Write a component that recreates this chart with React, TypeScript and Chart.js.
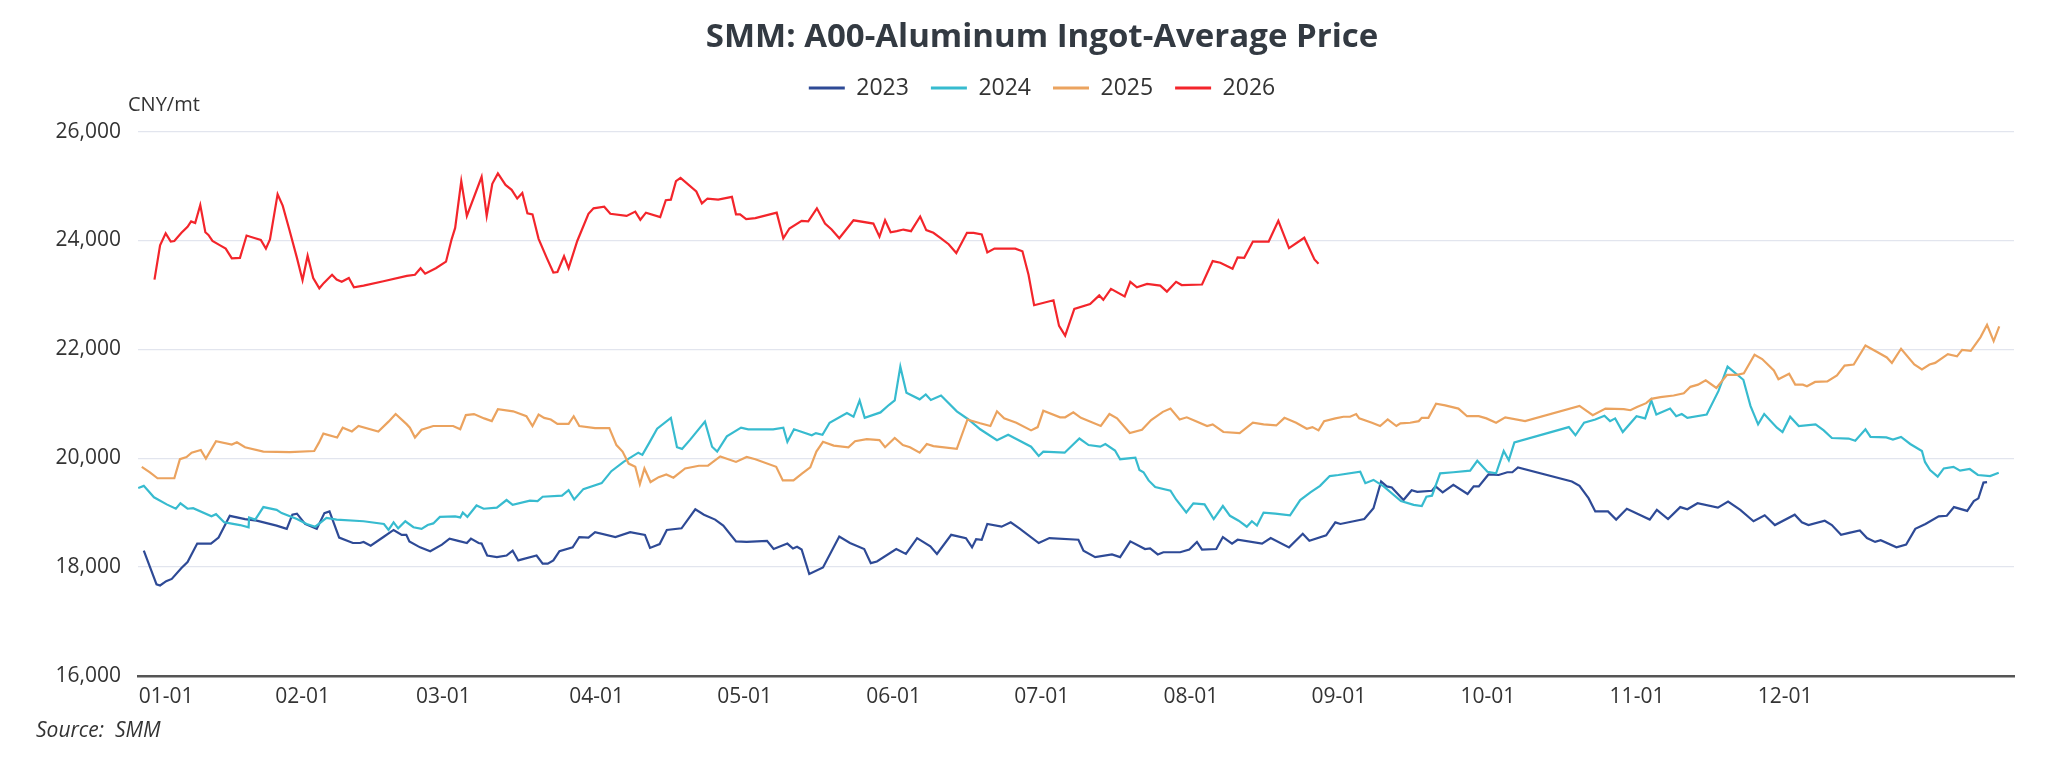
import { useEffect, useRef } from 'react';
import { Chart, registerables } from 'chart.js';

Chart.register(...registerables);

// x is day of year (Jan 1 = 0)
const monthTickDays = [4.4, 31.2, 58.9, 89, 118.1, 147.4, 176.5, 205.8, 234.9, 264.2, 293.5, 322.6];
const monthLabels = ['01-01', '02-01', '03-01', '04-01', '05-01', '06-01', '07-01', '08-01', '09-01', '10-01', '11-01', '12-01'];
const yTicks = [16000, 18000, 20000, 22000, 24000, 26000];

const seriesNames = ['2023', '2024', '2025', '2026'];
const seriesColors = ['#2e4a96', '#37bbcf', '#eba35f', '#f3252b'];

const days2023 = [0, 2.5, 3.2, 4.4, 5.5, 7.4, 8.6, 10.5, 13.2, 14.7, 16.9, 19.9, 22.2, 26.1, 28.1, 29.2, 30.1, 31.7, 34, 35.5, 36.5, 38.4, 41.1, 42.5, 43.2, 44.6, 47.1, 49.1, 50.7, 51.6, 52.2, 54.3, 56.3, 58.6, 60.1, 61.8, 63.5, 64.3, 65.8, 66.4, 67.5, 69.4, 71.3, 72.5, 73.6, 77.2, 78.4, 79.4, 80.5, 81.7, 84.3, 85.6, 87.4, 88.7, 92.7, 95.6, 98.5, 99.5, 101.4, 102.8, 105.7, 108.4, 110.1, 112.3, 113.9, 116.4, 118.5, 122.5, 123.8, 126.5, 127.6, 128.4, 129.3, 130.8, 133.5, 136.7, 138.8, 141.6, 142.9, 144.1, 147.9, 149.8, 152, 154.6, 155.9, 158.7, 161.6, 162.8, 163.6, 164.7, 165.8, 168.6, 170.4, 172.1, 175.9, 178, 183.7, 184.7, 187, 190.3, 191.9, 193.9, 196.8, 197.8, 199.3, 200.4, 203.7, 205.5, 207, 208, 210.8, 212.1, 213.9, 215, 219.8, 221.5, 225.1, 227.8, 229.1, 232.4, 234.2, 235.2, 239.9, 241.7, 243.2, 244.3, 245.3, 247.6, 249.2, 250.3, 253.2, 253.9, 255.3, 257.4, 260.2, 261.4, 262.4, 264.3, 266.3, 268, 269, 270.1, 280.7, 282.2, 284, 285.3, 287.8, 289.4, 291.5, 296, 297.4, 299.6, 302, 303.4, 305.4, 309.4, 311.4, 313.8, 316.4, 318.6, 320.6, 324.5, 325.9, 327.2, 330.4, 331.8, 333.6, 335.4, 337.3, 338.7, 340.3, 341.4, 344.5, 346.4, 348.2, 350.2, 352.8, 354.4, 355.8, 358.4, 359.7, 360.6, 361.6, 362.3];
const price2023 = [18300, 17680, 17660, 17740, 17780, 17980, 18090, 18430, 18430, 18540, 18940, 18880, 18850, 18760, 18700, 18960, 18980, 18790, 18700, 18990, 19020, 18540, 18440, 18440, 18460, 18390, 18550, 18680, 18590, 18590, 18470, 18360, 18290, 18410, 18520, 18480, 18440, 18520, 18440, 18430, 18210, 18180, 18210, 18300, 18120, 18210, 18060, 18060, 18120, 18290, 18360, 18550, 18540, 18640, 18550, 18640, 18590, 18350, 18420, 18680, 18710, 19060, 18960, 18870, 18760, 18470, 18460, 18480, 18330, 18430, 18340, 18370, 18320, 17870, 17990, 18560, 18440, 18330, 18070, 18100, 18330, 18240, 18530, 18380, 18240, 18590, 18530, 18360, 18510, 18500, 18790, 18740, 18820, 18710, 18440, 18530, 18500, 18300, 18180, 18230, 18180, 18470, 18330, 18340, 18230, 18270, 18270, 18320, 18460, 18320, 18330, 18550, 18430, 18500, 18430, 18530, 18360, 18610, 18480, 18580, 18820, 18790, 18880, 19080, 19570, 19480, 19460, 19230, 19410, 19380, 19400, 19480, 19370, 19510, 19340, 19480, 19480, 19700, 19690, 19740, 19740, 19830, 19570, 19490, 19260, 19020, 19020, 18870, 19070, 18870, 19050, 18880, 19100, 19060, 19170, 19090, 19200, 19050, 18840, 18950, 18770, 18960, 18820, 18770, 18850, 18770, 18590, 18630, 18670, 18530, 18460, 18490, 18360, 18410, 18700, 18790, 18930, 18940, 19100, 19030, 19210, 19260, 19550, 19560];

const days2024 = [-1.1, 0, 2, 4.5, 6.3, 7.2, 8.6, 9.7, 13.3, 14.2, 15.8, 17, 18.9, 20.6, 20.7, 21.9, 23.5, 26.1, 27.1, 30.1, 32, 33.7, 35.9, 37.9, 43.2, 47.2, 48.1, 49.1, 50, 51.4, 53, 54.6, 55.8, 56.9, 58.2, 61.2, 62.2, 62.7, 63.6, 65.4, 66.8, 69.4, 71.3, 72.5, 75.9, 77.4, 78.4, 82.2, 83.5, 84.6, 86.4, 90, 91.9, 94.3, 97.2, 98, 99.4, 100.9, 103.6, 104.8, 105.8, 107.4, 110.3, 111.7, 112.7, 114.6, 117.4, 118.8, 123.7, 125.7, 126.5, 127.8, 131.3, 132.1, 133.4, 134.8, 138.2, 139.5, 140.7, 141.7, 144.8, 146.5, 147.6, 148.7, 149.9, 152.5, 153.7, 154.7, 156.7, 159.8, 162.1, 164.4, 167.7, 169.9, 174.4, 175.9, 176.8, 181, 183.9, 185.7, 188, 189, 190.9, 191.9, 194.9, 195.7, 196.5, 197.5, 198.8, 201.8, 202.9, 204.9, 206.3, 208.5, 210.3, 212.1, 213.5, 215.2, 216.8, 217.8, 218.8, 220.1, 222.4, 225.3, 227.3, 229.3, 231.2, 233.1, 234.8, 239.1, 240.1, 241.7, 243.7, 247.1, 249.6, 251.2, 252.1, 253.2, 254.8, 257.4, 260.7, 262.1, 264.1, 265.8, 267.3, 268.3, 269.4, 280.1, 281.4, 283.1, 285.3, 287.1, 288.2, 289.2, 290.7, 293.4, 295.1, 296.3, 297.3, 300, 301.2, 302.3, 303.4, 307.2, 309.5, 311.3, 314.4, 315.8, 317.3, 318.5, 321, 322.1, 323.6, 325.3, 328.6, 330.2, 331.8, 335.1, 336.4, 338.4, 339.4, 342.5, 343.8, 345.4, 347.2, 349.5, 350.1, 351.1, 352.6, 353.8, 355.7, 357, 358.9, 360.5, 362.9, 364.6];
const price2024 = [19450, 19490, 19280, 19150, 19070, 19170, 19070, 19080, 18930, 18970, 18820, 18800, 18770, 18730, 18910, 18870, 19100, 19050, 18990, 18880, 18790, 18740, 18900, 18870, 18840, 18790, 18680, 18820, 18710, 18840, 18730, 18700, 18770, 18800, 18920, 18930, 18910, 19000, 18920, 19130, 19070, 19090, 19230, 19140, 19220, 19210, 19290, 19310, 19410, 19240, 19430, 19540, 19760, 19930, 20100, 20060, 20290, 20540, 20740, 20200, 20170, 20340, 20670, 20210, 20120, 20400, 20560, 20530, 20530, 20560, 20300, 20530, 20420, 20460, 20430, 20650, 20830, 20760, 21060, 20740, 20840, 20980, 21060, 21680, 21200, 21080, 21170, 21070, 21150, 20860, 20710, 20530, 20330, 20430, 20210, 20040, 20120, 20100, 20360, 20240, 20210, 20260, 20140, 19980, 20010, 19780, 19740, 19590, 19470, 19400, 19240, 19000, 19170, 19150, 18880, 19120, 18940, 18850, 18740, 18840, 18760, 19000, 18980, 18950, 19230, 19370, 19490, 19670, 19690, 19750, 19540, 19600, 19480, 19210, 19140, 19120, 19290, 19310, 19720, 19740, 19770, 19950, 19750, 19720, 20130, 19960, 20290, 20570, 20420, 20650, 20710, 20780, 20680, 20730, 20480, 20770, 20730, 21060, 20800, 20910, 20770, 20810, 20740, 20800, 21230, 21680, 21440, 20960, 20620, 20810, 20560, 20480, 20760, 20590, 20620, 20510, 20370, 20360, 20320, 20530, 20390, 20380, 20340, 20390, 20260, 20130, 19930, 19780, 19660, 19810, 19840, 19770, 19800, 19690, 19670, 19730];

const days2025 = [-0.4, 1.2, 2.7, 6, 7.1, 8.4, 9.4, 11.2, 12.2, 14.2, 17.3, 18.3, 19.9, 23.5, 28.7, 33.5, 34.4, 35.3, 38, 39.1, 40.9, 42.2, 46.1, 48.1, 49.5, 51.7, 52.3, 53.3, 54.6, 56.9, 60.8, 62.2, 63.3, 64.9, 66.9, 68.4, 69.6, 72.6, 75.2, 76.4, 77.6, 78.7, 80, 81.3, 83.5, 84.5, 85.6, 88.7, 91.5, 92.9, 94.1, 95.3, 96.6, 97.5, 98.4, 99.6, 101.2, 102.7, 104.1, 106.4, 109.1, 110.9, 113.3, 116.4, 118.5, 120.2, 124.3, 125.6, 127.7, 129.3, 131, 132.2, 133.5, 135.6, 138.5, 139.8, 142.1, 144.6, 145.7, 147.6, 149.2, 150.6, 152.5, 153.9, 155.2, 159.8, 161.9, 164.4, 166.4, 167.7, 169.1, 171.5, 174.4, 175.7, 176.8, 180.1, 181.1, 182.7, 184.2, 188.1, 189.8, 191.3, 193.8, 196.2, 198, 200.3, 201.8, 203.6, 205, 206.7, 209, 210.1, 212.2, 215.4, 218, 220.1, 222.6, 224.2, 226.5, 228.6, 229.7, 230.9, 232, 234.2, 235.8, 237.1, 238.3, 238.9, 241.4, 243, 244.5, 246.2, 247, 248.9, 250.6, 251.2, 252.5, 254, 255.8, 258.4, 260.1, 262.4, 263.9, 265.8, 267.6, 271.5, 282.2, 284.8, 287.3, 290.9, 292.2, 293.5, 295.3, 296.3, 298.1, 300.7, 302.7, 304, 305.5, 307, 309.1, 311.2, 313.2, 314.5, 316.6, 318.1, 320.4, 321.3, 323.4, 324.6, 326.1, 326.9, 328.5, 330.9, 332.8, 334.3, 336.1, 338.4, 340.7, 342.6, 343.6, 345.4, 348, 349.5, 351, 352.1, 354.6, 356.4, 357.4, 359.1, 361, 362.3, 363.6, 364.7];
const price2025 = [19840, 19740, 19630, 19630, 19980, 20020, 20100, 20150, 19990, 20310, 20250, 20290, 20200, 20120, 20110, 20130, 20280, 20450, 20380, 20560, 20490, 20590, 20490, 20670, 20810, 20620, 20560, 20380, 20520, 20590, 20590, 20530, 20790, 20810, 20730, 20680, 20900, 20860, 20770, 20590, 20800, 20740, 20710, 20630, 20630, 20770, 20590, 20550, 20550, 20240, 20120, 19900, 19840, 19520, 19810, 19560, 19650, 19700, 19640, 19810, 19860, 19860, 20030, 19930, 20020, 19980, 19840, 19590, 19590, 19710, 19830, 20120, 20300, 20230, 20200, 20310, 20350, 20330, 20200, 20370, 20240, 20200, 20100, 20260, 20220, 20170, 20710, 20640, 20590, 20860, 20730, 20650, 20510, 20570, 20870, 20750, 20750, 20840, 20740, 20590, 20810, 20730, 20460, 20520, 20700, 20850, 20910, 20710, 20750, 20680, 20590, 20620, 20480, 20460, 20650, 20620, 20600, 20740, 20650, 20540, 20570, 20510, 20680, 20730, 20760, 20760, 20810, 20730, 20650, 20590, 20710, 20590, 20640, 20650, 20680, 20740, 20740, 21000, 20970, 20910, 20770, 20770, 20730, 20650, 20750, 20680, 20960, 20790, 20910, 20900, 20880, 20940, 21010, 21090, 21120, 21150, 21190, 21310, 21350, 21430, 21290, 21530, 21530, 21560, 21900, 21820, 21610, 21450, 21550, 21350, 21350, 21320, 21400, 21410, 21520, 21700, 21720, 22070, 21950, 21850, 21750, 22010, 21720, 21630, 21720, 21750, 21910, 21870, 21990, 21970, 22220, 22450, 22150, 22420];

const days2026 = [2.1, 3.2, 4.3, 5.3, 6, 7.4, 8.6, 9.3, 10.1, 11.1, 12.1, 12.7, 13.5, 15, 16.1, 17.3, 18.9, 20.2, 21.9, 23, 24, 24.8, 26.3, 27.3, 28.6, 30.1, 31.2, 32.2, 33.3, 34.5, 35.4, 37, 37.9, 38.9, 40.3, 41.3, 43.2, 47.1, 51.7, 53.3, 54.4, 55.3, 57.4, 59.4, 60.5, 61.2, 62.4, 63.5, 66.4, 67.4, 68.5, 69.6, 71.1, 72.3, 73.4, 74.4, 75.4, 76.4, 77.6, 79.2, 80.5, 81.3, 82.6, 83.5, 85.2, 87.4, 88.4, 90.5, 91.7, 94.9, 96.6, 97.6, 98.7, 101.5, 102.6, 103.6, 104.6, 105.5, 108.6, 109.7, 110.8, 112.9, 115.6, 116.4, 117.2, 118.4, 120.2, 124.4, 125.7, 126.9, 129.3, 130.6, 132.3, 133.9, 135.2, 136.7, 139.5, 143.4, 144.6, 145.7, 146.8, 148, 149.3, 150.8, 152.6, 153.8, 155.2, 156.7, 158.2, 159.7, 161.8, 163.1, 164.7, 165.8, 167.2, 171.3, 172.7, 173.9, 175, 178.8, 179.9, 181.1, 182.9, 186, 187.8, 188.6, 190.1, 192.8, 193.9, 195.2, 197.2, 199.8, 201.1, 202.9, 204, 208, 210.1, 211.6, 214, 215, 216.3, 218, 221.1, 223, 225.1, 228.1, 230.1, 230.9];
const price2026 = [23280, 23910, 24130, 23980, 23990, 24140, 24250, 24350, 24320, 24650, 24150, 24100, 23990, 23910, 23850, 23670, 23680, 24090, 24040, 24010, 23850, 24020, 24850, 24640, 24200, 23680, 23270, 23720, 23310, 23120, 23220, 23370, 23280, 23240, 23310, 23140, 23170, 23250, 23350, 23370, 23490, 23390, 23490, 23610, 24020, 24230, 25090, 24450, 25170, 24450, 25040, 25230, 25020, 24930, 24770, 24870, 24500, 24480, 24030, 23680, 23410, 23420, 23710, 23490, 23990, 24490, 24590, 24620, 24490, 24450, 24530, 24380, 24510, 24430, 24740, 24750, 25090, 25150, 24900, 24680, 24770, 24750, 24800, 24480, 24480, 24390, 24410, 24510, 24040, 24220, 24360, 24350, 24590, 24310, 24200, 24040, 24370, 24310, 24070, 24370, 24150, 24170, 24200, 24170, 24440, 24190, 24140, 24040, 23930, 23770, 24140, 24140, 24110, 23780, 23850, 23850, 23800, 23370, 22810, 22900, 22430, 22250, 22740, 22830, 22990, 22910, 23110, 22970, 23240, 23140, 23200, 23170, 23060, 23240, 23180, 23190, 23620, 23590, 23480, 23690, 23680, 23980, 23980, 24360, 23860, 24050, 23650, 23570];

const seriesDays = [days2023, days2024, days2025, days2026];
const seriesPrices = [price2023, price2024, price2025, price2026];

const FONT = '"Open Sans", "Noto Sans", sans-serif';

// axis unit and source note drawn on the canvas
const notesPlugin = {
  id: 'notes',
  afterDraw(chart: Chart) {
    const { ctx, chartArea } = chart;
    ctx.save();
    ctx.fillStyle = '#333';
    ctx.textBaseline = 'middle';
    ctx.textAlign = 'left';
    ctx.font = `20px ${FONT}`;
    ctx.fillText('CNY/mt', chartArea.left - 10, chartArea.top - 26);
    ctx.font = `italic 21px ${FONT}`;
    ctx.fillText('Source:  SMM', 36, 731);
    ctx.restore();
  },
};

// invisible scale used only to reserve space
const spacer = (position: 'top' | 'right', size: number) => ({
  type: 'linear' as const,
  position,
  display: true,
  ticks: { display: false },
  grid: { display: false, drawTicks: false },
  border: { display: false },
  afterFit: (scale: any) => {
    if (position === 'top') scale.height = size;
    else scale.width = size;
  },
});

const App = () => {
  const canvasRef = useRef<HTMLCanvasElement>(null);
  const chartRef = useRef<Chart | null>(null);

  useEffect(() => {
    if (!canvasRef.current) return;
    if (chartRef.current) chartRef.current.destroy();

    const datasets = seriesNames.map((name, i) => ({
      label: name,
      data: seriesDays[i].map((d, j) => ({ x: d, y: seriesPrices[i][j] })),
      borderColor: seriesColors[i],
      backgroundColor: seriesColors[i],
      borderWidth: 2.2,
      pointRadius: 0,
      tension: 0,
      order: seriesNames.length - i,
    }));

    chartRef.current = new Chart(canvasRef.current, {
      type: 'line',
      data: { datasets },
      plugins: [notesPlugin],
      options: {
        animation: false,
        responsive: true,
        maintainAspectRatio: false,
        layout: { padding: { left: 14, right: 0, top: 0, bottom: 41 } },
        plugins: {
          title: {
            display: true,
            text: 'SMM: A00-Aluminum Ingot-Average Price',
            color: '#333a42',
            font: { family: FONT, size: 33, weight: 'bold' },
            padding: { top: 18, bottom: -3 },
          },
          legend: {
            display: true,
            labels: {
              color: '#333',
              font: { family: FONT, size: 23 },
              boxWidth: 36,
              boxHeight: 3,
              padding: 22,
              sort: (a, b) => (a.datasetIndex ?? 0) - (b.datasetIndex ?? 0),
              generateLabels: (chart) =>
                Chart.defaults.plugins.legend.labels
                  .generateLabels(chart)
                  .map((item) => ({ ...item, lineWidth: 0 })),
            },
          },
          tooltip: { enabled: false },
        },
        scales: {
          x: {
            type: 'linear',
            min: -1.14,
            max: 367.6,
            afterBuildTicks: (axis) => {
              axis.ticks = monthTickDays.map((v) => ({ value: v }));
            },
            ticks: {
              autoSkip: false,
              maxRotation: 0,
              padding: 9,
              color: '#333',
              font: { family: FONT, size: 21 },
              callback: (_value, index) => monthLabels[index],
            },
            grid: { display: false, drawTicks: false },
            border: { display: true, color: '#555', width: 2.5 },
          },
          xTop: spacer('top', 22),
          y: {
            min: 16000,
            max: 26000,
            afterBuildTicks: (axis) => {
              axis.ticks = yTicks.map((v) => ({ value: v }));
            },
            afterFit: (scale) => {
              scale.width = 124;
            },
            ticks: {
              padding: 17,
              color: '#333',
              font: { family: FONT, size: 21 },
              callback: (value) => Number(value).toLocaleString('en-US'),
            },
            grid: { color: '#e2e5ee', lineWidth: 1.2, drawTicks: false },
            border: { display: false },
          },
          yRight: spacer('right', 56),
        },
      },
    });

    return () => {
      if (chartRef.current) {
        chartRef.current.destroy();
        chartRef.current = null;
      }
    };
  }, []);

  return (
    <div style={{ position: 'absolute', left: 0, top: 0, width: 2070, height: 760, background: '#fff' }}>
      <canvas ref={canvasRef} />
    </div>
  );
};

export default App;
